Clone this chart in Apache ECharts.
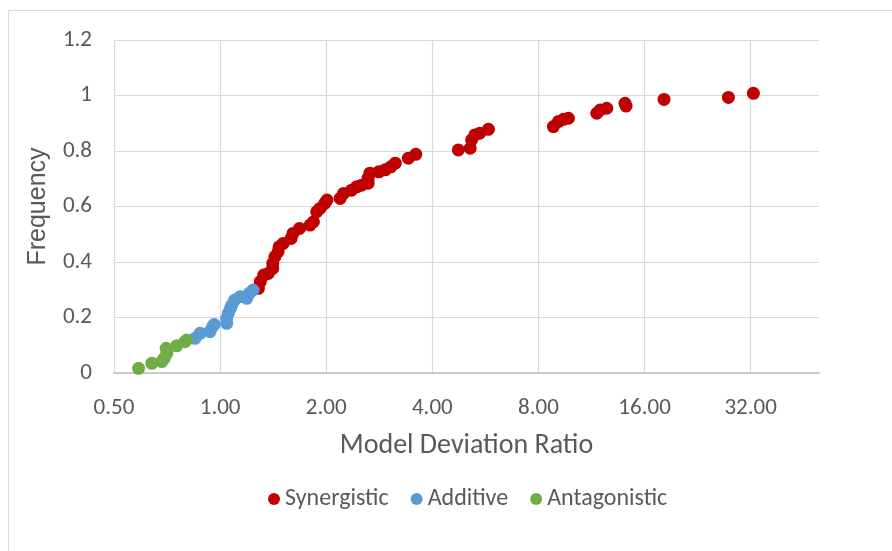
<!DOCTYPE html>
<html>
<head>
<meta charset="utf-8">
<script src="https://cdn.jsdelivr.net/npm/echarts@6/dist/echarts.min.js"></script>
<style>
  html, body { margin: 0; padding: 0; background: #fff; }
  #chart { width: 892px; height: 551px; }
</style>
</head>
<body>
<div id="chart"></div>
<script>
// Model deviation ratio (x) vs cumulative frequency (y), split by interaction class
const synergisticX = [1.284, 1.30, 1.33, 1.37, 1.41, 1.41, 1.43, 1.46, 1.47, 1.51, 1.59, 1.61, 1.68, 1.80, 1.84, 1.88, 1.92, 1.98, 2.01,
  2.19, 2.24, 2.36, 2.44, 2.52, 2.63, 2.63, 2.66, 2.82, 2.94, 3.05, 3.14, 3.42, 3.59,
  4.74, 5.12, 5.17, 5.28, 5.45, 5.77, 8.82, 9.11, 9.42, 9.73, 11.71, 11.98, 12.5, 14.08, 14.18, 18.17, 27.67, 32.57];
const synergisticY = [0.305, 0.329, 0.353, 0.359, 0.377, 0.395, 0.419, 0.437, 0.455, 0.467, 0.485, 0.503, 0.521, 0.533, 0.545, 0.581, 0.593, 0.611, 0.623,
  0.629, 0.647, 0.659, 0.671, 0.677, 0.684, 0.702, 0.720, 0.725, 0.732, 0.743, 0.756, 0.774, 0.788,
  0.804, 0.810, 0.840, 0.858, 0.864, 0.878, 0.888, 0.906, 0.914, 0.918, 0.936, 0.948, 0.954, 0.972, 0.962, 0.986, 0.993, 1.008];

const additiveX = [0.849, 0.877, 0.936, 0.952, 0.962, 1.044, 1.044, 1.055, 1.07, 1.08, 1.10, 1.14, 1.19, 1.21, 1.24];
const additiveY = [0.125, 0.143, 0.149, 0.167, 0.175, 0.179, 0.197, 0.215, 0.233, 0.245, 0.263, 0.275, 0.269, 0.287, 0.299];

const antagonisticX = [0.587, 0.640, 0.683, 0.694, 0.706, 0.703, 0.753, 0.795, 0.804];
const antagonisticY = [0.017, 0.035, 0.041, 0.053, 0.071, 0.089, 0.098, 0.113, 0.119];

const seriesNames = ['Synergistic', 'Additive', 'Antagonistic'];
const seriesColors = ['#C00000', '#5B9BD5', '#70AD47'];

const xTitle = 'Model Deviation Ratio';
const yTitle = 'Frequency';

const FONT = 'Carlito, "Liberation Sans Narrow", "Liberation Sans", sans-serif';
const TEXT = '#595959';

function pairs(xs, ys) { return xs.map((x, i) => [x, ys[i]]); }

const chart = echarts.init(document.getElementById('chart'), null, { renderer: 'canvas' });

const data = [
  pairs(synergisticX, synergisticY),
  pairs(additiveX, additiveY),
  pairs(antagonisticX, antagonisticY)
];

chart.setOption({
  animation: false,
  backgroundColor: '#ffffff',
  graphic: [{
    type: 'rect',
    shape: { x: 8.5, y: 10.5, width: 1000, height: 1000 },
    style: { fill: 'none', stroke: '#d9d9d9', lineWidth: 1 },
    silent: true
  }],
  grid: { left: 114, top: 40, width: 705, height: 333, containLabel: false },
  legend: {
    data: seriesNames,
    left: 263,
    top: 482,
    icon: 'circle',
    itemWidth: 12,
    itemHeight: 12,
    itemGap: 22,
    textStyle: { color: TEXT, fontSize: 24, fontFamily: FONT }
  },
  xAxis: {
    type: 'log',
    logBase: 2,
    min: 0.5,
    max: 50,
    name: xTitle,
    nameLocation: 'middle',
    nameGap: 59,
    nameTextStyle: { color: TEXT, fontSize: 28, fontFamily: FONT },
    axisLine: { show: true, lineStyle: { color: '#bfbfbf', width: 1.5 } },
    axisTick: { show: false },
    axisLabel: {
      color: TEXT, fontSize: 23, fontFamily: FONT, margin: 24,
      showMaxLabel: false,
      formatter: v => Number(v).toFixed(2)
    },
    splitLine: { show: true, showMaxLine: false, lineStyle: { color: '#d9d9d9', width: 1.2 } }
  },
  yAxis: {
    type: 'value',
    min: 0,
    max: 1.2,
    interval: 0.2,
    name: yTitle,
    nameLocation: 'middle',
    nameGap: 63,
    nameTextStyle: { color: TEXT, fontSize: 25, fontFamily: '"Liberation Sans", sans-serif' },
    axisLine: { show: false },
    axisTick: { show: false },
    axisLabel: {
      color: TEXT, fontSize: 23, fontFamily: FONT, margin: 22,
      formatter: v => String(+Number(v).toFixed(1))
    },
    splitLine: { show: true, lineStyle: { color: '#d9d9d9', width: 1.2 } }
  },
  series: seriesNames.map((name, i) => ({
    name: name,
    type: 'scatter',
    data: data[i],
    symbol: 'circle',
    symbolSize: 13,
    itemStyle: { color: seriesColors[i], opacity: 1 },
    emphasis: { disabled: true }
  }))
});
</script>
</body>
</html>
